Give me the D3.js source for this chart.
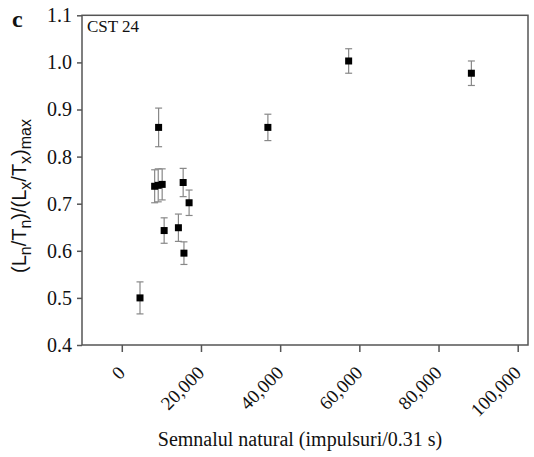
<!DOCTYPE html>
<html lang="ro">

<head>
  <meta charset="UTF-8">
  <title>CST 24</title>
  <script src="https://d3js.org/d3.v7.min.js"></script>
  <style>
    body { margin: 0; background: #fff; }
  </style>
</head>

<body>
  <svg id="chart" width="534" height="457"></svg>
  <script>
    // natural signal (counts / 0.31 s)
    let signal = [4600, 8300, 9200, 10200, 9300, 10700, 14300, 15500, 15700, 17000, 36900, 57300, 88300];
    // normalised ratio (Ln/Tn)/(Lx/Tx)max
    let ratio = [0.500, 0.737, 0.739, 0.741, 0.862, 0.643, 0.649, 0.745, 0.595, 0.702, 0.862, 1.003, 0.977];
    // error bar half widths
    let errors = [0.034, 0.035, 0.035, 0.033, 0.041, 0.027, 0.029, 0.030, 0.024, 0.027, 0.028, 0.026, 0.026];

    let xTicks = [0, 20000, 40000, 60000, 80000, 100000];
    let yTicks = [0.4, 0.5, 0.6, 0.7, 0.8, 0.9, 1.0, 1.1];

    let serif = 'Liberation Serif, DejaVu Serif, serif';
    let sans = 'Liberation Sans, Arial, sans-serif';

    let data = signal.map(function (d, i) {
      return { x: d, y: ratio[i], e: errors[i] };
    });

    let plotLeft = 82, plotRight = 528, plotTop = 15.3, plotBottom = 345;
    let svg = d3.select('#chart');

    let x = d3.scaleLinear().domain([-10050, 102600]).range([plotLeft, plotRight]);
    let y = d3.scaleLinear().domain([0.4, 1.1]).range([plotBottom, plotTop]);

    // frame
    svg.append('rect')
      .attr('x', plotLeft).attr('y', plotTop)
      .attr('width', plotRight - plotLeft).attr('height', plotBottom - plotTop)
      .attr('fill', 'none')
      .attr('stroke', '#555')
      .attr('stroke-width', 1.5);

    // y axis
    let yAxis = d3.axisLeft(y)
      .tickValues(yTicks)
      .tickSize(5)
      .tickPadding(5)
      .tickFormat(d3.format('.1f'));

    let gy = svg.append('g')
      .attr('transform', 'translate(' + plotLeft + ',0)')
      .call(yAxis)
      .attr('font-family', serif)
      .attr('font-size', 20);
    gy.select('.domain').remove();
    gy.selectAll('line').attr('stroke', '#555').attr('stroke-width', 1.5);
    gy.selectAll('text').attr('fill', '#111');

    // x axis
    let xAxis = d3.axisBottom(x)
      .tickValues(xTicks)
      .tickSize(7)
      .tickFormat(d3.format(','));

    let gx = svg.append('g')
      .attr('transform', 'translate(0,' + plotBottom + ')')
      .call(xAxis)
      .attr('font-family', serif)
      .attr('font-size', 19);
    gx.select('.domain').remove();
    gx.selectAll('line').attr('stroke', '#555').attr('stroke-width', 1.5);
    gx.selectAll('text')
      .attr('fill', '#111')
      .attr('text-anchor', 'end')
      .attr('x', 0).attr('y', 0).attr('dy', 0)
      .attr('transform', 'translate(4,29) rotate(-45)');

    // error bars
    let bars = svg.append('g')
      .selectAll('g')
      .data(data)
      .join('g')
      .attr('stroke', '#888')
      .attr('stroke-width', 1.2);

    bars.append('line')
      .attr('x1', function (d) { return x(d.x); })
      .attr('x2', function (d) { return x(d.x); })
      .attr('y1', function (d) { return y(d.y + d.e); })
      .attr('y2', function (d) { return y(d.y - d.e); });

    bars.append('line')
      .attr('x1', function (d) { return x(d.x) - 3.5; })
      .attr('x2', function (d) { return x(d.x) + 3.5; })
      .attr('y1', function (d) { return y(d.y + d.e); })
      .attr('y2', function (d) { return y(d.y + d.e); });

    bars.append('line')
      .attr('x1', function (d) { return x(d.x) - 3.5; })
      .attr('x2', function (d) { return x(d.x) + 3.5; })
      .attr('y1', function (d) { return y(d.y - d.e); })
      .attr('y2', function (d) { return y(d.y - d.e); });

    // markers
    svg.append('g')
      .selectAll('rect')
      .data(data)
      .join('rect')
      .attr('x', function (d) { return x(d.x) - 3.5; })
      .attr('y', function (d) { return y(d.y) - 3.5; })
      .attr('width', 7)
      .attr('height', 7)
      .attr('fill', '#000');

    // labels
    svg.append('text')
      .attr('x', 12).attr('y', 27)
      .attr('font-family', serif)
      .attr('font-size', 24)
      .attr('font-weight', 'bold')
      .attr('fill', '#111')
      .text('c');

    svg.append('text')
      .attr('x', 87).attr('y', 32)
      .attr('font-family', serif)
      .attr('font-size', 17)
      .attr('fill', '#111')
      .text('CST 24');

    svg.append('text')
      .attr('x', 300).attr('y', 446)
      .attr('text-anchor', 'middle')
      .attr('font-family', serif)
      .attr('font-size', 20)
      .attr('fill', '#111')
      .text('Semnalul natural (impulsuri/0.31 s)');

    // y label with subscripts
    let yl = svg.append('text')
      .attr('transform', 'translate(26,196) rotate(-90)')
      .attr('text-anchor', 'middle')
      .attr('font-family', sans)
      .attr('font-size', 20)
      .attr('fill', '#111');

    let parts = [['(L', 0], ['n', 1], ['/T', 0], ['n', 1], [')/(L', 0], ['x', 1], ['/T', 0], ['x', 1], [')', 0], ['max', 1]];
    let prev = 0;
    parts.forEach(function (p) {
      let shift = p[1] ? 5 : 0;
      yl.append('tspan')
        .attr('dy', shift - prev)
        .attr('font-size', p[1] ? 16 : 20)
        .text(p[0]);
      prev = shift;
    });
  </script>
</body>

</html>
